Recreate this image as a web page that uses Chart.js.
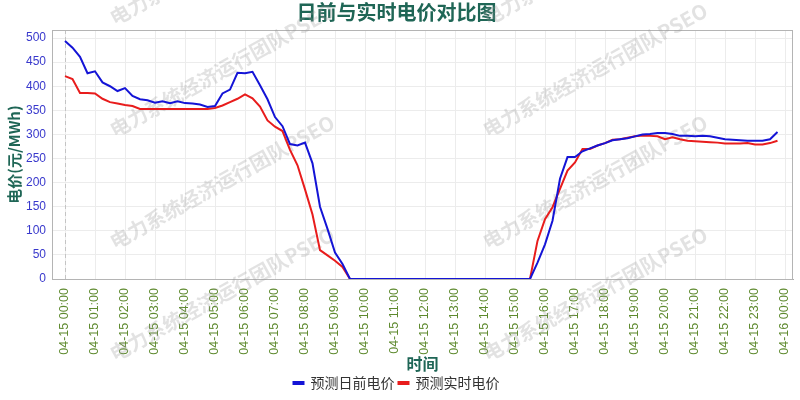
<!DOCTYPE html>
<html lang="zh-CN">
<head>
<meta charset="UTF-8">
<title>日前与实时电价对比图</title>
<script src="https://cdn.jsdelivr.net/npm/chart.js@4.4.1/dist/chart.umd.min.js"></script>
<style>
    html, body { margin: 0; padding: 0; background: #fff; }
    #wrap { width: 800px; height: 400px; }
</style>
</head>
<body>
<div id="wrap"><canvas id="priceChart" width="800" height="400"></canvas></div>
<script>
    const hourLabels = [
        '04-15 00:00', '04-15 01:00', '04-15 02:00', '04-15 03:00', '04-15 04:00',
        '04-15 05:00', '04-15 06:00', '04-15 07:00', '04-15 08:00', '04-15 09:00',
        '04-15 10:00', '04-15 11:00', '04-15 12:00', '04-15 13:00', '04-15 14:00',
        '04-15 15:00', '04-15 16:00', '04-15 17:00', '04-15 18:00', '04-15 19:00',
        '04-15 20:00', '04-15 21:00', '04-15 22:00', '04-15 23:00', '04-16 00:00'
    ];

    // 15-minute points, 00:00 .. 23:45
    const dayAheadPrice = [
        494, 480, 461, 427, 431, 408, 400, 390, 396, 380, 373, 371,
        366, 369, 365, 369, 365, 364, 362, 357, 359, 385, 393, 428,
        427, 430, 402, 373, 336, 317, 280, 277, 283, 240, 150, 104,
        55, 31, 0, 0, 0, 0, 0, 0, 0, 0, 0, 0,
        0, 0, 0, 0, 0, 0, 0, 0, 0, 0, 0, 0,
        0, 0, 0, 34, 72, 121, 208, 253, 253, 265, 271, 277,
        282, 288, 290, 292, 296, 300, 301, 303, 303, 301, 297, 297,
        296, 297, 296, 293, 290, 289, 288, 287, 287, 287, 290, 305
    ];

    const realTimePrice = [
        421, 415, 386, 386, 385, 374, 367, 364, 361, 359, 353, 353,
        353, 353, 353, 353, 353, 353, 353, 353, 355, 360, 367, 374,
        383, 375, 358, 329, 316, 307, 268, 236, 186, 134, 60, 49,
        38, 25, 0, 0, 0, 0, 0, 0, 0, 0, 0, 0,
        0, 0, 0, 0, 0, 0, 0, 0, 0, 0, 0, 0,
        0, 0, 0, 79, 124, 149, 187, 225, 242, 270, 270, 277,
        282, 289, 290, 293, 296, 298, 297, 296, 290, 294, 290, 287,
        286, 285, 284, 283, 281, 281, 281, 282, 279, 279, 282, 287
    ];

    const WATERMARK = '电力系统经济运行团队PSEO';
    const CJK = '"Noto Sans CJK SC", "Noto Sans", sans-serif';
    const LATIN = '"Liberation Sans", Arial, sans-serif';

    function toPoints(values) {
        return values.map((v, i) => ({ x: i, y: v }));
    }

    const frameAndWatermark = {
        id: 'frameAndWatermark',
        beforeDatasetsDraw(chart) {
            const { ctx, chartArea: a, scales } = chart;
            ctx.save();
            // dashed start line
            const x0 = Math.round(scales.x.getPixelForValue(0)) + 0.5;
            ctx.strokeStyle = '#c4c4c4';
            ctx.lineWidth = 1;
            ctx.setLineDash([4, 3]);
            ctx.beginPath();
            ctx.moveTo(x0, a.top);
            ctx.lineTo(x0, a.bottom);
            ctx.stroke();
            ctx.setLineDash([]);
            // plot frame
            ctx.strokeStyle = '#b4b4b4';
            ctx.strokeRect(a.left + 0.5, a.top + 0.5, a.right - a.left - 1, a.bottom - a.top);
            // watermark
            ctx.fillStyle = 'rgba(150, 150, 150, 0.28)';
            ctx.font = 'bold 20px ' + CJK;
            ctx.textAlign = 'center';
            ctx.textBaseline = 'middle';
            [110, 483].forEach(sx => {
                [20, 132, 244, 356].forEach(sy => {
                    ctx.save();
                    ctx.translate(sx + 112, sy - 62);
                    ctx.rotate(-29 * Math.PI / 180);
                    ctx.fillText(WATERMARK, 0, 0);
                    ctx.restore();
                });
            });
            ctx.restore();
        }
    };

    new Chart(document.getElementById('priceChart'), {
        type: 'line',
        data: {
            datasets: [{
                label: '预测日前电价',
                data: toPoints(dayAheadPrice),
                borderColor: '#1414d6',
                backgroundColor: '#1414d6',
                borderWidth: 2,
                pointRadius: 0,
                tension: 0
            }, {
                label: '预测实时电价',
                data: toPoints(realTimePrice),
                borderColor: '#e81c1c',
                backgroundColor: '#e81c1c',
                borderWidth: 2,
                pointRadius: 0,
                tension: 0
            }]
        },
        options: {
            responsive: false,
            animation: false,
            layout: { padding: { left: 0, right: 7, top: 0, bottom: 0 } },
            plugins: {
                title: {
                    display: true,
                    text: '日前与实时电价对比图',
                    color: '#1f6656',
                    font: { family: CJK, size: 20, weight: 'bold' },
                    padding: { top: 0, bottom: 6 }
                },
                legend: {
                    position: 'bottom',
                    labels: {
                        color: '#333',
                        font: { family: CJK, size: 14 },
                        boxWidth: 10,
                        boxHeight: 2,
                        padding: 4
                    }
                },
                tooltip: { enabled: false }
            },
            scales: {
                x: {
                    type: 'linear',
                    min: -13 / 7.5,
                    max: 96 + 8 / 7.5,
                    afterBuildTicks(scale) {
                        scale.ticks = hourLabels.map((_, i) => ({ value: i * 4 }));
                    },
                    afterFit(scale) {
                        scale.height = 93;
                        scale.paddingLeft = 0;
                        scale.paddingRight = 0;
                    },
                    ticks: {
                        autoSkip: false,
                        maxRotation: 90,
                        minRotation: 90,
                        padding: 9,
                        color: '#5e8a2e',
                        font: { family: LATIN, size: 12.5 },
                        callback: value => hourLabels[Math.round(value / 4)]
                    },
                    grid: { color: '#ececec', drawTicks: false },
                    border: { color: '#aaaaaa' },
                    title: {
                        display: true,
                        text: '时间',
                        color: '#1f6656',
                        font: { family: CJK, size: 16, weight: 'bold', lineHeight: 1 },
                        padding: { top: 0, bottom: 0 }
                    }
                },
                y: {
                    min: 0,
                    max: 516.7,
                    afterFit(scale) { scale.width = 52; },
                    ticks: {
                        stepSize: 50,
                        includeBounds: false,
                        padding: 6,
                        color: '#3838cc',
                        font: { family: LATIN, size: 12 }
                    },
                    grid: { color: '#ececec', drawTicks: false },
                    border: { color: '#aaaaaa' },
                    title: {
                        display: true,
                        text: '电价(元/MWh)',
                        color: '#1f6656',
                        font: { family: CJK, size: 15, weight: 'bold' },
                        padding: { top: 5, bottom: 4 }
                    }
                }
            }
        },
        plugins: [frameAndWatermark]
    });
</script>
</body>
</html>
